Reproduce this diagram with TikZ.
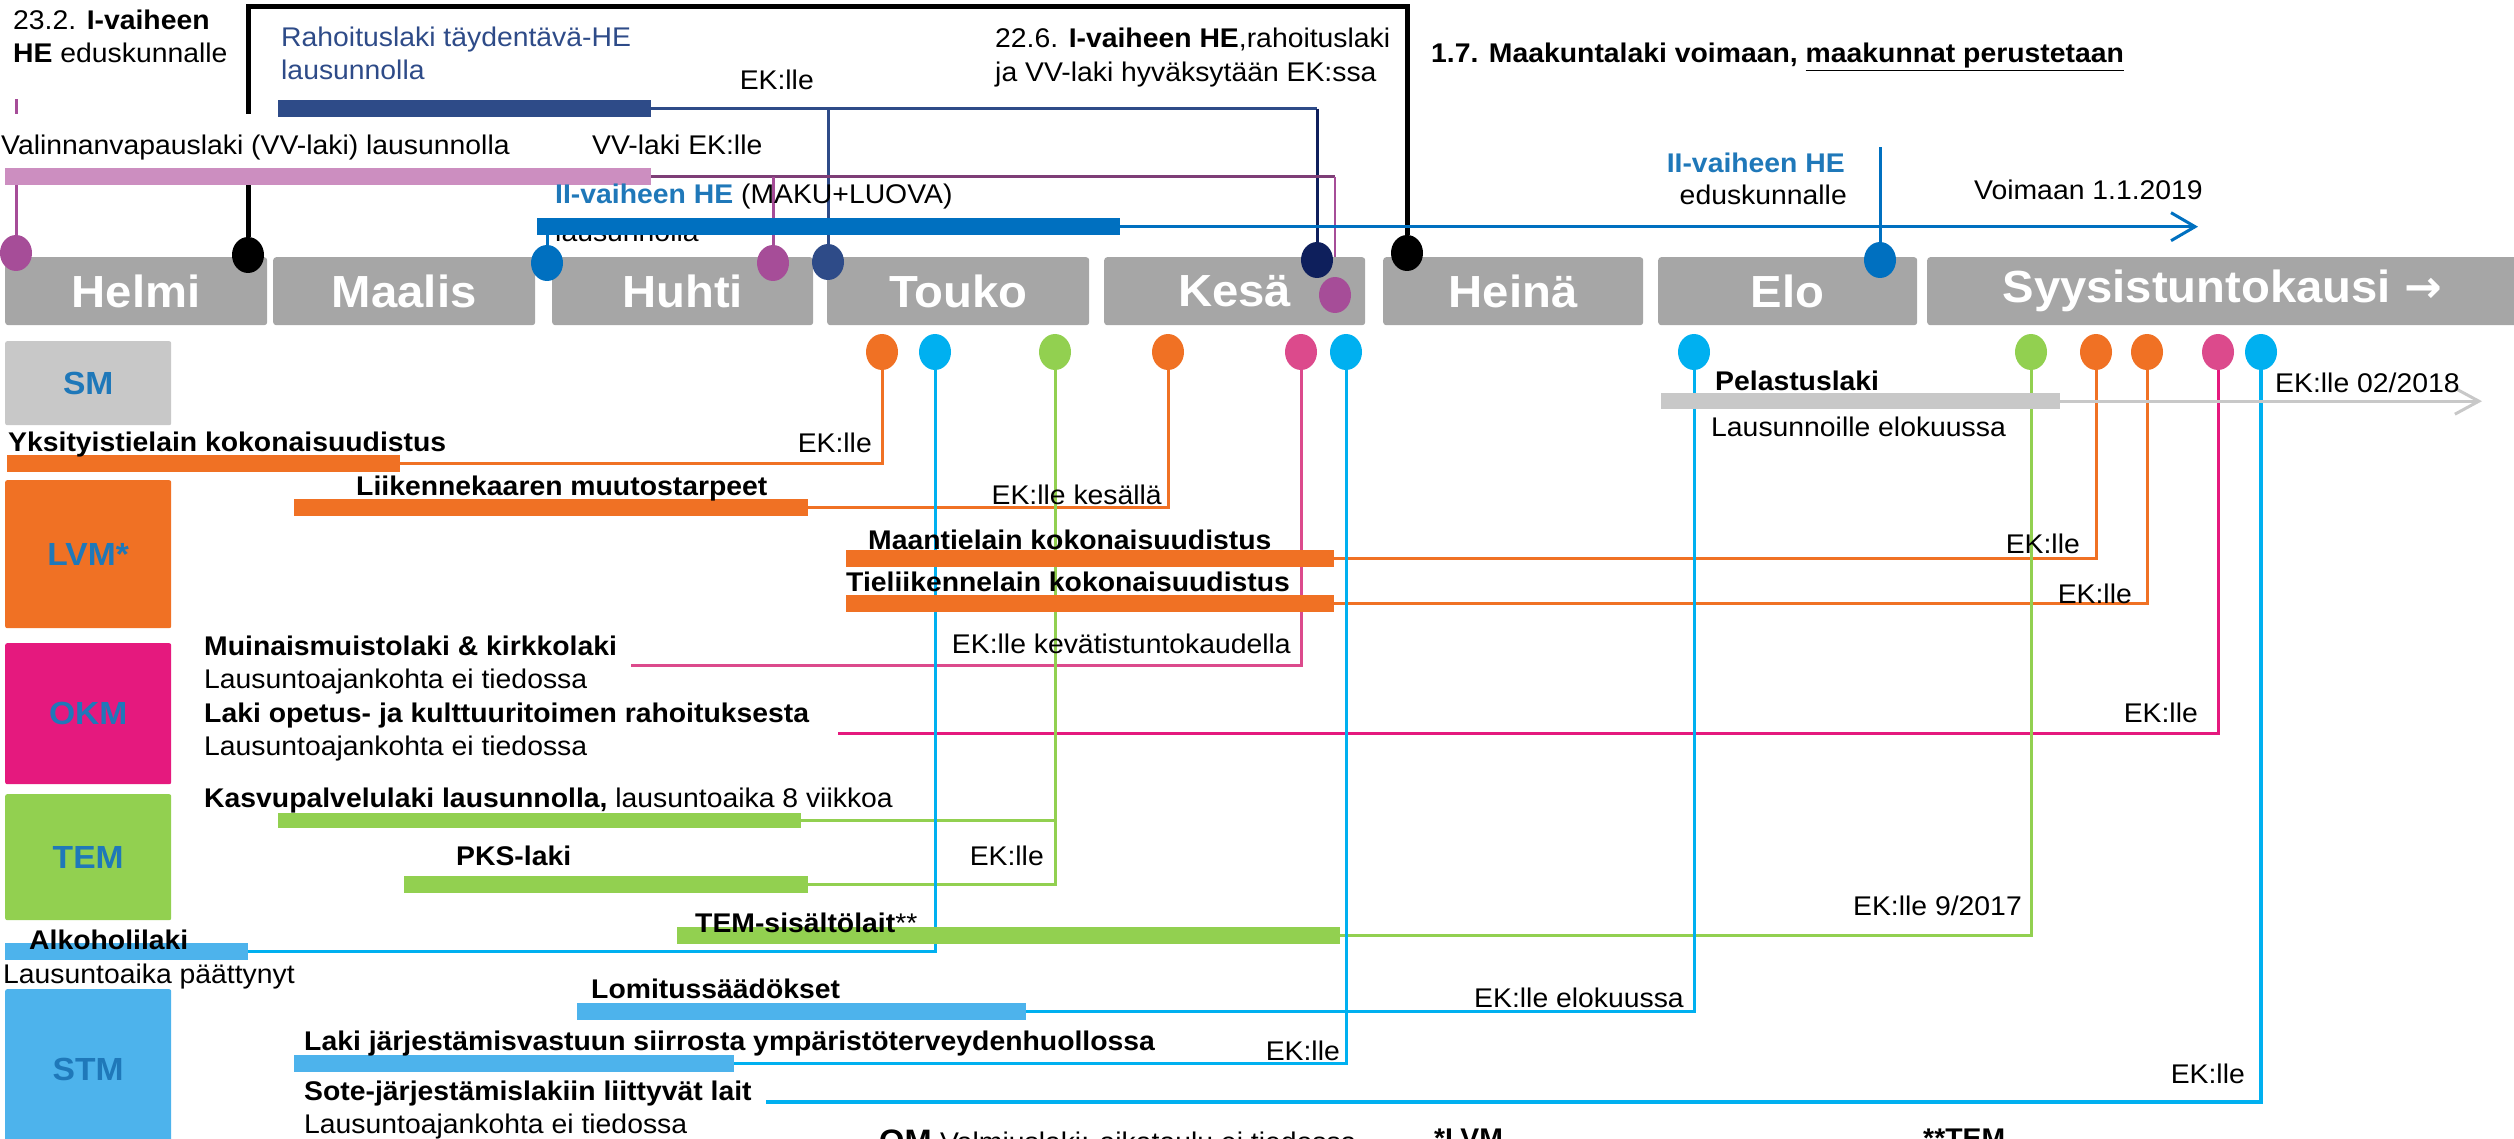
\documentclass[tikz,border=0pt]{standalone}
\usepackage{fontspec}
\setmainfont{Liberation Sans}[FakeStretch=1.05]
\newfontfamily\arrowfont{DejaVu Sans}
\usetikzlibrary{shapes.geometric,arrows.meta}
\pgfdeclarelayer{bg}
\pgfsetlayers{bg,main}
\definecolor{mgray}{HTML}{A6A6A6}
\definecolor{lgray}{HTML}{C8C8C8}
\definecolor{orng}{HTML}{F07124}
\definecolor{mgnt}{HTML}{E5197E}
\definecolor{pinkd}{HTML}{DC4A8C}
\definecolor{grn}{HTML}{92D050}
\definecolor{cyn}{HTML}{00B0F0}
\definecolor{stmb}{HTML}{4DB3EC}
\definecolor{navy}{HTML}{2E4B88}
\definecolor{dnavy}{HTML}{0E1F5C}
\definecolor{purp}{HTML}{A64D98}
\definecolor{lilac}{HTML}{CC8EC0}
\definecolor{plum}{HTML}{7E3E77}
\definecolor{blu}{HTML}{0070C0}
\definecolor{lblue}{HTML}{1F78B9}
\newcommand\fn{\fontsize{27}{32}\selectfont}
\begin{document}
\begin{tikzpicture}[x=1pt,y=-1pt,
 txt/.style={inner sep=0pt,font=\fn,anchor=base west},
 txtb/.style={inner sep=0pt,font=\fn\bfseries,anchor=base west},
 txtr/.style={inner sep=0pt,font=\fn,anchor=base east},
 month/.style={fill=mgray,rounded corners=3pt,inner sep=0pt,anchor=north west,minimum height=68pt,font=\fontsize{45}{50}\selectfont\bfseries,text=white},
 mini/.style={rounded corners=2pt,inner sep=0pt,anchor=north west,minimum width=166pt,font=\fontsize{32}{36}\selectfont\bfseries,text=lblue},
 hbar/.style={inner sep=0pt,anchor=north west,minimum height=17pt},
 mdot/.style={ellipse,inner sep=0pt,minimum width=32pt,minimum height=36pt},
 thinl/.style={line width=3pt},
]
\useasboundingbox (0,0) rectangle (2514,1139);
\clip (0,0) rectangle (2514,1139);

% months
\node[month,minimum width=262pt] (mHelmi) at (5,257) {Helmi};
\node[month,minimum width=262pt] (mMaalis) at (273,257) {Maalis};
\node[month,minimum width=261pt] (mHuhti) at (552,257) {Huhti};
\node[month,minimum width=262pt] (mTouko) at (827,257) {Touko};
\node[month,minimum width=261pt] (mKesa) at (1104,257) {Kesä};
\node[month,minimum width=260pt] (mHeina) at (1383,257) {Heinä};
\node[month,minimum width=259pt] (mElo) at (1658,257) {Elo};
\node[month,minimum width=590pt] (mSyys) at (1927,257) {Syysistuntokausi {\arrowfont\bfseries →}};

% ministries
\node[mini,fill=lgray,minimum height=84pt] (sm) at (5,341) {SM};
\node[mini,fill=orng,minimum height=148pt] (lvm) at (5,480) {LVM*};
\node[mini,fill=mgnt,minimum height=141pt] (okm) at (5,643) {OKM};
\node[mini,fill=grn,minimum height=126pt] (tem) at (5,794) {TEM};
\node[mini,fill=stmb,minimum height=160pt] (stm) at (5,989) {STM};

% texts under bars
\node[txt,fill=white,text height=41pt,text depth=13pt] (vvTxt) at (1,155) {Valinnanvapauslaki (VV-laki) lausunnolla};
\node[txt] (heTxt2) at (555,242) {lausunnolla};

% bars
\node[hbar,fill=navy,minimum width=373pt] (rahBar) at (278,100) {};
\node[hbar,fill=lilac,minimum width=646pt] (vvBar) at (5,168) {};
\node[hbar,fill=blu,minimum width=583pt] (heBar) at (537,218) {};
\node[hbar,fill=lgray,minimum width=399pt,minimum height=16pt] (pelBar) at (1661,393) {};
\node[hbar,fill=orng,minimum width=393pt] (yksBar) at (7,455) {};
\node[hbar,fill=orng,minimum width=514pt] (liiBar) at (294,499) {};
\node[hbar,fill=orng,minimum width=488pt] (maaBar) at (846,550) {};
\node[hbar,fill=orng,minimum width=488pt] (tieBar) at (846,595) {};
\node[hbar,fill=grn,minimum width=523pt,minimum height=15pt] (kasBar) at (278,813) {};
\node[hbar,fill=grn,minimum width=404pt] (pksBar) at (404,876) {};
\node[hbar,fill=grn,minimum width=663pt] (temBar) at (677,927) {};
\node[hbar,fill=stmb,minimum width=243pt] (alkBar) at (5,943) {};
\node[hbar,fill=stmb,minimum width=449pt] (lomBar) at (577,1003) {};
\node[hbar,fill=stmb,minimum width=440pt] (jarBar) at (294,1055) {};

% dots on month bar
\node[mdot,fill=purp] (dHelP) at (16,253) {};
\node[mdot,fill=black] (dHelK) at (248,255) {};
\node[mdot,fill=blu] (dHuhB) at (547,263) {};
\node[mdot,fill=purp] (dHuhP) at (773,263) {};
\node[mdot,fill=navy] (dTouN) at (828,262) {};
\node[mdot,fill=dnavy] (dKesN) at (1317,260) {};
\node[mdot,fill=purp] (dKesP) at (1335,295) {};
\node[mdot,fill=black] (dHeiK) at (1407,253) {};
\node[mdot,fill=blu] (dEloB) at (1880,260) {};

% row dots
\node[mdot,fill=orng] (r1) at (882,352) {};
\node[mdot,fill=cyn] (r2) at (935,352) {};
\node[mdot,fill=grn] (r3) at (1055,352) {};
\node[mdot,fill=orng] (r4) at (1168,352) {};
\node[mdot,fill=pinkd] (r5) at (1301,352) {};
\node[mdot,fill=cyn] (r6) at (1346,352) {};
\node[mdot,fill=cyn] (r7) at (1694,352) {};
\node[mdot,fill=grn] (r8) at (2031,352) {};
\node[mdot,fill=orng] (r9) at (2096,352) {};
\node[mdot,fill=orng] (r10) at (2147,352) {};
\node[mdot,fill=pinkd] (r11) at (2218,352) {};
\node[mdot,fill=cyn] (r12) at (2261,352) {};

% top texts
\node[txt] (t1a) at (13,30) {23.2. \textbf{I-vaiheen}};
\node[txt] (t1b) at (13,63) {\textbf{HE} eduskunnalle};
\node[txt,text=navy] (rahA) at (281,47) {Rahoituslaki täydentävä-HE};
\node[txt,text=navy] (rahB) at (281,80) {lausunnolla};
\node[txtr] (rahEK) at (814,90) {EK:lle};
\node[txt] (vvEK) at (592,155) {VV-laki EK:lle};
\node[txt] (heTxt1) at (555,204) {\textcolor{lblue}{\bfseries II-vaiheen HE} (MAKU+LUOVA)};
\node[txt] (t2a) at (995,48) {22.6. \textbf{I-vaiheen HE},rahoituslaki};
\node[txt] (t2b) at (995,82) {ja VV-laki hyväksytään EK:ssa};
\node[txtb] (t3) at (1431,63) {1.7. Maakuntalaki voimaan, \underline{maakunnat perustetaan}};
\node[txtr,text=lblue,font=\fn\bfseries] (eloA) at (1845,173) {II-vaiheen HE};
\node[txtr] (eloB) at (1847,205) {eduskunnalle};
\node[txt] (voim) at (1974,200) {Voimaan 1.1.2019};

% row texts
\node[txtb] (pelA) at (1715,391) {Pelastuslaki};
\node[txt] (pelB) at (1711,436) {Lausunnoille elokuussa};
\node[txt] (pelEK) at (2275,392) {EK:lle 02/2018};
\node[txtb] (yksA) at (8,451) {Yksityistielain kokonaisuudistus};
\node[txtr] (yksEK) at (872,452) {EK:lle};
\node[txtb] (liiA) at (356,495) {Liikennekaaren muutostarpeet};
\node[txtr] (liiEK) at (1162,504) {EK:lle kesällä};
\node[txtb] (maaA) at (868,549) {Maantielain kokonaisuudistus};
\node[txtr] (maaEK) at (2080,553) {EK:lle};
\node[txtb] (tieA) at (846,591) {Tieliikennelain kokonaisuudistus};
\node[txtr] (tieEK) at (2132,603) {EK:lle};
\node[txtb] (muiA) at (204,655) {Muinaismuistolaki \& kirkkolaki};
\node[txt] (muiB) at (204,688) {Lausuntoajankohta ei tiedossa};
\node[txtr] (muiEK) at (1291,653) {EK:lle kevätistuntokaudella};
\node[txtb] (opeA) at (204,722) {Laki opetus- ja kulttuuritoimen rahoituksesta};
\node[txt] (opeB) at (204,755) {Lausuntoajankohta ei tiedossa};
\node[txtr] (opeEK) at (2198,722) {EK:lle};
\node[txt] (kasA) at (204,807) {\textbf{Kasvupalvelulaki lausunnolla,} lausuntoaika 8 viikkoa};
\node[txtb] (pksA) at (456,865) {PKS-laki};
\node[txtr] (pksEK) at (1044,865) {EK:lle};
\node[txt] (temA) at (695,932) {\textbf{TEM-sisältölait}**};
\node[txtr] (temEK) at (2022,915) {EK:lle 9/2017};
\node[txtb] (alkA) at (29,949) {Alkoholilaki};
\node[txt] (alkB) at (3,983) {Lausuntoaika päättynyt};
\node[txtb] (lomA) at (591,998) {Lomitussäädökset};
\node[txtr] (lomEK) at (1684,1007) {EK:lle elokuussa};
\node[txtb] (jarA) at (304,1050) {Laki järjestämisvastuun siirrosta ympäristöterveydenhuollossa};
\node[txtr] (jarEK) at (1340,1060) {EK:lle};
\node[txtb] (sotA) at (304,1100) {Sote-järjestämislakiin liittyvät lait};
\node[txt] (sotB) at (304,1133) {Lausuntoajankohta ei tiedossa};
\node[txtr] (sotEK) at (2245,1083) {EK:lle};

% bottom (cut off as in the reference)
\node[txtb,font=\fontsize{31}{36}\selectfont\bfseries] (omA) at (879,1151) {OM};
\node[txt,anchor=base west] (omB) at ([xshift=8pt]omA.base east) {Valmiuslaki: aikataulu ei tiedossa};
\node[txtb] (fn1) at (1434,1147) {*LVM};
\node[txtb] (fn2) at (1923,1147) {**TEM};

% connectors
\coordinate (blkTop) at (0,7);
\coordinate (purTop) at (0,99);
\coordinate (plumS) at (635,0);
\coordinate (arrTip) at (2198,0);
\coordinate (eloTop) at (1880,147);
\coordinate (pelTip) at (2482,0);
\coordinate (muiS) at (631,665);
\coordinate (opeS) at (838,733);
\coordinate (sotS) at (766,1102);
\begin{pgfonlayer}{bg}
\draw[line width=5pt] (dHelK) |- (dHeiK |- blkTop) -- (dHeiK);
\draw[purp,thinl] (dHelP) -- (dHelP |- purTop);
\draw[navy,line width=3.5pt] (rahBar.east) -- (dKesN |- rahBar.east);
\draw[dnavy,thinl] (dKesN |- rahBar.east) -- (dKesN);
\draw[navy,thinl] (dTouN) -- (dTouN |- rahBar.east);
\draw[plum,thinl] (plumS |- vvBar.east) -- (dKesP |- vvBar.east);
\draw[purp,line width=2.5pt] (dKesP |- vvBar.east) -- (dKesP);
\draw[purp,thinl] (dHuhP) -- (dHuhP |- vvBar.east);
\draw[blu,thinl,-{Straight Barb[length=24pt,width=28pt]}] (heBar.east) -- (arrTip |- heBar.east);
\draw[blu,thinl] (dHuhB) -- (dHuhB |- heBar.south);
\draw[blu,thinl] (dEloB) -- (eloTop);
\draw[orng,thinl] (yksBar.east) -| (r1);
\draw[orng,thinl] (liiBar.east) -| (r4);
\draw[orng,thinl] (maaBar.east) -| (r9);
\draw[orng,thinl] (tieBar.east) -| (r10);
\draw[pinkd,thinl] (muiS) -| (r5);
\draw[mgnt,thinl] (opeS) -| (r11);
\draw[grn,thinl] (kasBar.east) -| (r3);
\draw[grn,thinl] (pksBar.east) -| (r3);
\draw[grn,thinl] (temBar.east) -| (r8);
\draw[cyn,thinl] (alkBar.east) -| (r2);
\draw[cyn,thinl] (lomBar.east) -| (r7);
\draw[cyn,thinl] (jarBar.east) -| (r6);
\draw[cyn,line width=3.5pt] (sotS) -| (r12);
\draw[lgray,thinl,-{Straight Barb[length=24pt,width=26pt]}] (pelBar.east) -- (pelTip |- pelBar.east);
\end{pgfonlayer}
\end{tikzpicture}
\end{document}
